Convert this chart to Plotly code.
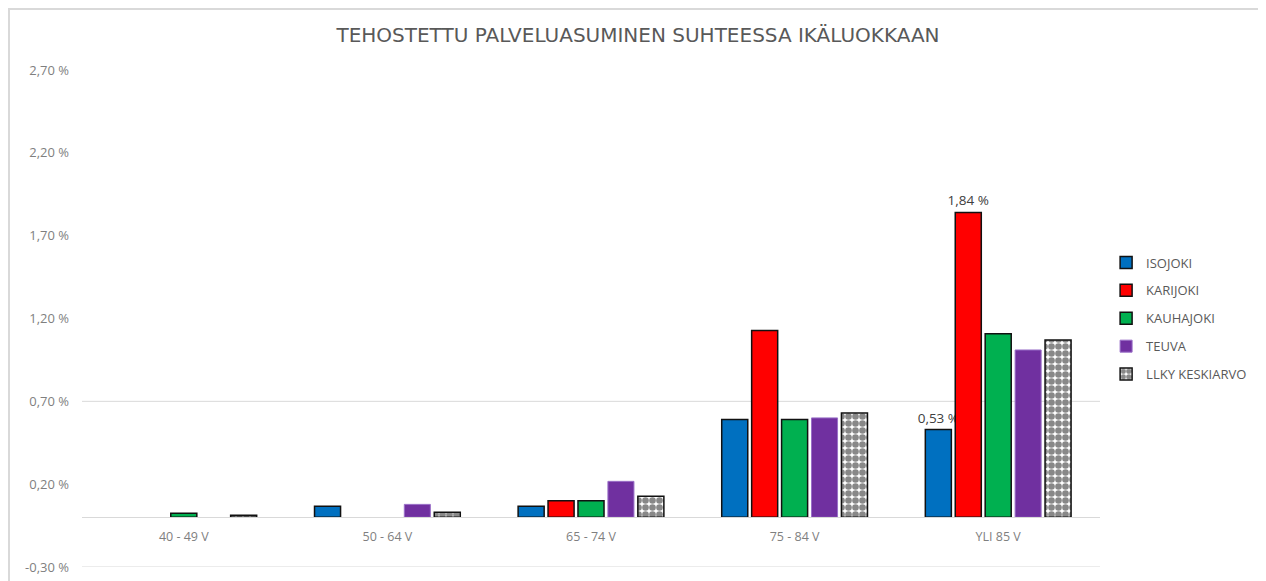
import plotly.graph_objects as go

categories = ["40 - 49 V", "50 - 64 V", "65 - 74 V", "75 - 84 V", "YLI 85 V"]
isojoki = [None, 0.066, 0.066, 0.59, 0.53]
karijoki = [None, None, 0.10, 1.127, 1.84]
kauhajoki = [0.025, None, 0.10, 0.59, 1.108]
teuva = [None, 0.078, 0.217, 0.60, 1.01]
llky = [0.012, 0.03, 0.127, 0.63, 1.07]
isojoki_labels = ["", "", "", "", "0,53 %"]
karijoki_labels = ["", "", "", "", "1,84 %"]

y_ticks = [-0.3, 0.2, 0.7, 1.2, 1.7, 2.2, 2.7]
y_ticktext = ["-0,30 %", "0,20 %", "0,70 %", "1,20 %", "1,70 %", "2,20 %", "2,70 %"]
grid_levels = [-0.3, 0.7]

FONT = "Open Sans"
GRAY = "#7f7f7f"
LABEL_FONT = dict(size=13.5, color="#404040", family=FONT)

fig = go.Figure()
fig.add_trace(go.Bar(name="ISOJOKI", x=categories, y=isojoki, text=isojoki_labels,
                     textposition="outside", cliponaxis=False, constraintext="none",
                     textfont=LABEL_FONT,
                     marker=dict(color="#0070C0", line=dict(color="#111111", width=1.5))))
fig.add_trace(go.Bar(name="KARIJOKI", x=categories, y=karijoki, text=karijoki_labels,
                     textposition="outside", cliponaxis=False, constraintext="none",
                     textfont=LABEL_FONT,
                     marker=dict(color="#FF0000", line=dict(color="#111111", width=1.5))))
fig.add_trace(go.Bar(name="KAUHAJOKI", x=categories, y=kauhajoki,
                     marker=dict(color="#00B050", line=dict(color="#111111", width=1.5))))
fig.add_trace(go.Bar(name="TEUVA", x=categories, y=teuva,
                     marker=dict(color="#7030A0", line=dict(color="#9a70c8", width=1))))
fig.add_trace(go.Bar(name="LLKY KESKIARVO", x=categories, y=llky,
                     marker=dict(color="white",
                                 pattern=dict(shape=".", fgcolor="#111111", bgcolor="white",
                                              size=7, solidity=0.7, fillmode="overlay"),
                                 line=dict(color="#111111", width=1.5))))

for g in grid_levels:
    fig.add_shape(type="line", xref="paper", yref="y", x0=0, x1=1, y0=g, y1=g,
                  line=dict(color="#d9d9d9", width=1), layer="below")

# chart border
fig.add_shape(type="rect", xref="paper", yref="paper",
              x0=-0.0717, x1=1.1621, y0=-0.05, y1=1.1227,
              line=dict(color="#d9d9d9", width=2), layer="below")

fig.update_layout(
    width=1258, height=573,
    margin=dict(l=74, r=166, t=62, b=14, autoexpand=False),
    paper_bgcolor="white", plot_bgcolor="white",
    title=dict(text="TEHOSTETTU PALVELUASUMINEN SUHTEESSA IKÄLUOKKAAN",
               x=0.5008, xanchor="center", y=0.953, yanchor="middle",
               font=dict(family="DejaVu Sans", size=20, color="#595959")),
    barmode="group", bargap=0.265, bargroupgap=0.13,
    font=dict(family=FONT, color=GRAY),
    showlegend=True,
    legend=dict(x=1.006, xanchor="left", y=0.5, yanchor="middle",
                font=dict(size=13, color="#595959", family=FONT),
                tracegroupgap=8, itemwidth=30),
    xaxis=dict(anchor="free", position=0.1, showline=True, linecolor="#d9d9d9",
               linewidth=1, ticks="", showgrid=False, automargin=False,
               ticklabelstandoff=8,
               tickfont=dict(size=12.5, color=GRAY, family=FONT)),
    yaxis=dict(range=[-0.3, 2.7], tickvals=y_ticks, ticktext=y_ticktext,
               showgrid=False, zeroline=False, showline=False, automargin=False,
               ticklabelstandoff=12,
               tickfont=dict(size=13, color=GRAY, family=FONT)),
)
for i, tr in enumerate(fig.data):
    tr.legendgroup = str(i)

fig.write_html("out.html")
